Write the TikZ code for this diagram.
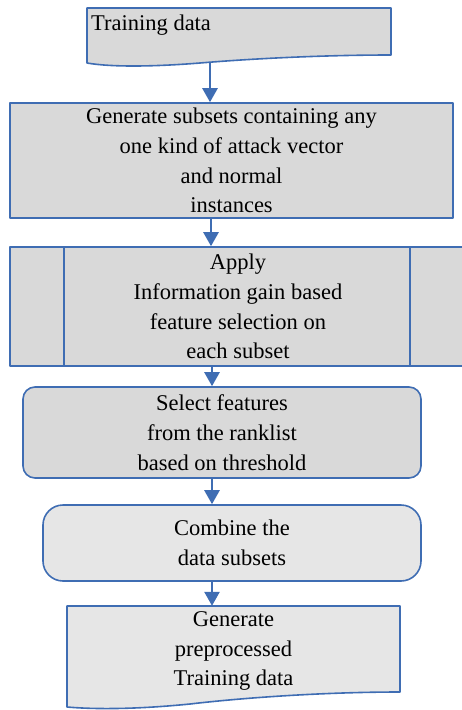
\documentclass[tikz,border=0pt]{standalone}
\usepackage{fontspec}
\setmainfont{Liberation Serif}
\usetikzlibrary{arrows.meta}
\definecolor{flowblue}{HTML}{3F6DB3}
\definecolor{boxgray}{HTML}{D9D9D9}
\definecolor{boxlight}{HTML}{E6E6E6}
\begin{document}
\begin{tikzpicture}[x=1pt, y=-1pt, line join=round, >={Triangle[width=15pt,length=14pt]},
  font=\fontsize{22.5}{29.7}\selectfont,
  box/.style={draw=flowblue, line width=1.6pt, fill=boxgray, inner sep=0pt, align=center},
  flow/.style={->, draw=flowblue, line width=2.6pt}]
  \useasboundingbox (0,0) rectangle (461,710);
  % input document
  \draw[box] (87,8) -- (391,8) -- (391,55) .. controls (330,55) and (260,58) .. (200,63)
    .. controls (150,67) and (110,67) .. (87,63) -- cycle;
  \node[anchor=base west, inner sep=0pt] (train) at (91,30) {Training data};
  \coordinate (a1) at (210,63);
  % processing steps
  \node[box, minimum width=443, minimum height=115] (gen) at (231.5,160.5)
    {Generate subsets containing any\\one kind of attack vector\\and normal\\instances};
  \node[box, minimum width=456, minimum height=119] (apply) at (238,306.5)
    {Apply\\Information gain based\\feature selection on\\each subset};
  \draw[flowblue, line width=1.6pt] ([xshift=55pt]apply.north west) -- ([xshift=55pt]apply.south west);
  \draw[flowblue, line width=1.6pt] ([xshift=-57pt]apply.north east) -- ([xshift=-57pt]apply.south east);
  \node[box, rounded corners=12pt, minimum width=398, minimum height=91] (select) at (222,432.5)
    {Select features\\from the ranklist\\based on threshold};
  \node[box, fill=boxlight, rounded corners=20pt, minimum width=378, minimum height=76] (combine) at (232,543)
    {Combine the\\data subsets};
  % output document
  \draw[box, fill=boxlight] (67,606) -- (400,606) -- (400,692) .. controls (330,692) and (250,697) .. (190,704)
    .. controls (130,710) and (90,709) .. (67,707) -- cycle;
  \node[inner sep=0pt, align=center, minimum width=333, minimum height=90] (final) at (233.5,651)
    {Generate\\preprocessed\\Training data};
  % arrows
  \draw[flow] (a1) -- (a1 |- gen.north);
  \foreach \s/\t/\x in {gen/apply/211, apply/select/212, select/combine/212, combine/final/212}
    \draw[flow] (\s.south -| \x,0) -- (\t.north -| \x,0);
\end{tikzpicture}
\end{document}
